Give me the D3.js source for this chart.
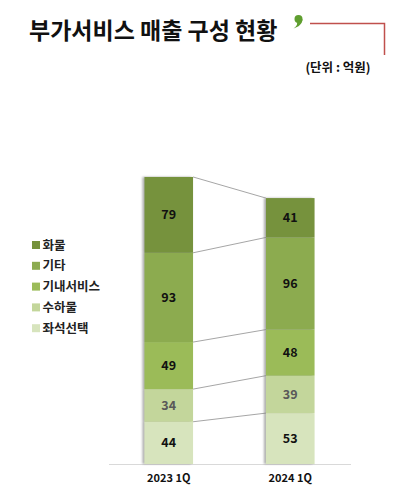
<!DOCTYPE html>
<html>
<head>
<meta charset="utf-8">
<script src="https://cdn.jsdelivr.net/npm/d3@7"></script>
<style>
  body { margin: 0; background: #fff; }
  svg { font-family: "Noto Sans CJK KR", "Noto Sans", sans-serif; }
</style>
</head>
<body>
<div id="chart"></div>
<script>
var categories = ["2023 1Q", "2024 1Q"];
// stack order, bottom to top
var seriesNames = ["좌석선택", "수하물", "기내서비스", "기타", "화물"];
var seatValues = [44, 53];
var baggageValues = [34, 39];
var inflightValues = [49, 48];
var otherValues = [93, 96];
var cargoValues = [79, 41];
var colors = ["#d7e4bd", "#c3d69b", "#9bbb59", "#8cab50", "#76923c"];
var labelColors = ["#111", "#595959", "#111", "#111", "#111"];

var width = 404, height = 500;

var table = categories.map(function(c, i) {
	return {
		cat: c,
		"좌석선택": seatValues[i],
		"수하물": baggageValues[i],
		"기내서비스": inflightValues[i],
		"기타": otherValues[i],
		"화물": cargoValues[i]
	};
});

var svg = d3.select("#chart")
	.append("svg")
	.attr("width", width)
	.attr("height", height);

var defs = svg.append("defs");
var shadow = defs.append("filter")
	.attr("id", "shadow")
	.attr("x", "-20%").attr("y", "-5%")
	.attr("width", "140%").attr("height", "110%");
shadow.append("feDropShadow")
	.attr("dx", -2).attr("dy", 0)
	.attr("stdDeviation", 1)
	.attr("flood-color", "#777")
	.attr("flood-opacity", 0.6);

// title
svg.append("text")
	.attr("x", 29).attr("y", 39)
	.attr("font-size", 23).attr("font-weight", "bold")
	.attr("fill", "#111")
	.text("부가서비스 매출 구성 현황");

// green comma mark
var comma = svg.append("g").attr("fill", "#5f9e2f");
comma.append("circle")
	.attr("cx", 298.5).attr("cy", 19).attr("r", 4);
comma.append("path")
	.attr("d", "M302.5,19C302.5,24 298.5,27 293.5,28.5C296.5,26.5 297.5,24.5 297,22.5Z");

svg.append("path")
	.attr("d", "M310,23.5H384.5V55")
	.attr("fill", "none")
	.attr("stroke", "#c0504d")
	.attr("stroke-width", 1.5);

svg.append("text")
	.attr("x", 338).attr("y", 72)
	.attr("text-anchor", "middle")
	.attr("font-size", 12.5).attr("font-weight", "bold")
	.attr("fill", "#111")
	.text("(단위 : 억원)");

var x = d3.scaleBand()
	.domain(categories)
	.range([108, 351])
	.paddingInner(0.6)
	.paddingOuter(0.3);

var y = d3.scaleLinear()
	.domain([0, 300])
	.range([464, 176]);

var stack = d3.stack().keys(seriesNames)(table);

// connector lines between the two bars
var c0 = categories[0], c1 = categories[1];
svg.append("g")
	.selectAll("line")
	.data(stack)
	.enter()
	.append("line")
	.attr("x1", x(c0) + x.bandwidth())
	.attr("x2", x(c1))
	.attr("y1", function(s) { return y(s[0][1]); })
	.attr("y2", function(s) { return y(s[1][1]); })
	.attr("stroke", "#a6a6a6")
	.attr("stroke-width", 1);

// baseline
svg.append("line")
	.attr("x1", 109).attr("x2", 351)
	.attr("y1", y(0) + 0.5).attr("y2", y(0) + 0.5)
	.attr("stroke", "#d9d9d9");

var barG = svg.append("g").attr("filter", "url(#shadow)");
var layers = barG.selectAll(".layer")
	.data(stack)
	.enter()
	.append("g")
	.attr("class", "layer")
	.attr("fill", function(d, i) { return colors[i]; });

layers.selectAll("rect")
	.data(function(d) { return d; })
	.enter()
	.append("rect")
	.attr("x", function(d) { return x(d.data.cat); })
	.attr("y", function(d) { return y(d[1]); })
	.attr("width", x.bandwidth())
	.attr("height", function(d) { return y(d[0]) - y(d[1]); });

var labelG = svg.append("g");
stack.forEach(function(s, i) {
	labelG.selectAll(".lbl" + i)
		.data(s)
		.enter()
		.append("text")
		.attr("x", function(d) { return x(d.data.cat) + x.bandwidth() / 2; })
		.attr("y", function(d) { return (y(d[0]) + y(d[1])) / 2; })
		.attr("dy", "0.36em")
		.attr("text-anchor", "middle")
		.attr("font-size", 12.5).attr("font-weight", "bold")
		.attr("fill", labelColors[i])
		.text(function(d) { return d[1] - d[0]; });
});

// x axis labels
var xAxis = d3.axisBottom(x).tickSize(0).tickPadding(10);
var axG = svg.append("g")
	.attr("transform", "translate(0," + y(0) + ")")
	.call(xAxis);
axG.select(".domain").remove();
axG.selectAll("text")
	.attr("font-size", 11).attr("font-weight", "bold")
	.attr("font-family", "Noto Sans CJK KR, sans-serif")
	.attr("fill", "#111");

// legend
var legendNames = seriesNames.slice().reverse();
var legendColors = colors.slice().reverse();
var legend = svg.append("g")
	.selectAll("g")
	.data(legendNames)
	.enter()
	.append("g")
	.attr("transform", function(d, i) { return "translate(32," + (245 + i * 20.8) + ")"; });
legend.append("rect")
	.attr("x", 0).attr("y", -4)
	.attr("width", 8).attr("height", 8)
	.attr("fill", function(d, i) { return legendColors[i]; });
legend.append("text")
	.attr("x", 10.5).attr("dy", "0.36em")
	.attr("font-size", 12.5).attr("font-weight", "bold")
	.attr("fill", "#222")
	.text(function(d) { return d; });
</script>
</body>
</html>
